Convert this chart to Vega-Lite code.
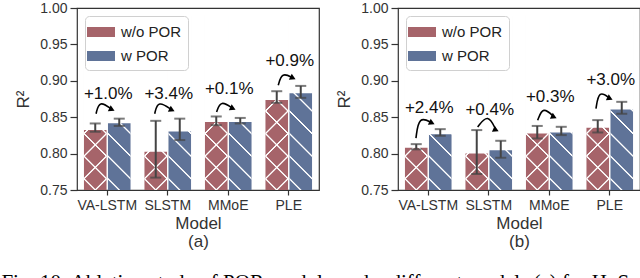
{
  "$schema": "https://vega.github.io/schema/vega-lite/v6.json",
  "padding": {"left": 1, "top": 0, "right": 0, "bottom": 0},
  "spacing": 14,
  "params": [
    {"name": "g1", "value": {"gradient": "linear", "x1": 0, "y1": 1, "x2": 0.1435, "y2": -0.1107, "stops": [
      {"offset": 0, "color": "rgba(255,255,255,0)"},
      {"offset": 0.0500, "color": "rgba(255,255,255,0)"}, {"offset": 0.0547, "color": "#ffffff"}, {"offset": 0.0597, "color": "#ffffff"}, {"offset": 0.0644, "color": "rgba(255,255,255,0)"},
      {"offset": 0.1644, "color": "rgba(255,255,255,0)"}, {"offset": 0.1691, "color": "#ffffff"}, {"offset": 0.1741, "color": "#ffffff"}, {"offset": 0.1788, "color": "rgba(255,255,255,0)"},
      {"offset": 0.2788, "color": "rgba(255,255,255,0)"}, {"offset": 0.2835, "color": "#ffffff"}, {"offset": 0.2885, "color": "#ffffff"}, {"offset": 0.2932, "color": "rgba(255,255,255,0)"},
      {"offset": 0.3932, "color": "rgba(255,255,255,0)"}, {"offset": 0.3979, "color": "#ffffff"}, {"offset": 0.4029, "color": "#ffffff"}, {"offset": 0.4076, "color": "rgba(255,255,255,0)"},
      {"offset": 0.5076, "color": "rgba(255,255,255,0)"}, {"offset": 0.5123, "color": "#ffffff"}, {"offset": 0.5173, "color": "#ffffff"}, {"offset": 0.5220, "color": "rgba(255,255,255,0)"},
      {"offset": 0.6220, "color": "rgba(255,255,255,0)"}, {"offset": 0.6267, "color": "#ffffff"}, {"offset": 0.6317, "color": "#ffffff"}, {"offset": 0.6364, "color": "rgba(255,255,255,0)"},
      {"offset": 0.7364, "color": "rgba(255,255,255,0)"}, {"offset": 0.7411, "color": "#ffffff"}, {"offset": 0.7461, "color": "#ffffff"}, {"offset": 0.7508, "color": "rgba(255,255,255,0)"},
      {"offset": 0.8508, "color": "rgba(255,255,255,0)"}, {"offset": 0.8555, "color": "#ffffff"}, {"offset": 0.8605, "color": "#ffffff"}, {"offset": 0.8652, "color": "rgba(255,255,255,0)"},
      {"offset": 0.9652, "color": "rgba(255,255,255,0)"}, {"offset": 0.9699, "color": "#ffffff"}, {"offset": 0.9749, "color": "#ffffff"}, {"offset": 0.9796, "color": "rgba(255,255,255,0)"},
      {"offset": 1, "color": "rgba(255,255,255,0)"}
    ]}},
    {"name": "g2", "value": {"gradient": "linear", "x1": 0, "y1": 0, "x2": 0.1435, "y2": 1.1107, "stops": [
      {"offset": 0, "color": "rgba(255,255,255,0)"},
      {"offset": 0.0204, "color": "rgba(255,255,255,0)"}, {"offset": 0.0251, "color": "#ffffff"}, {"offset": 0.0301, "color": "#ffffff"}, {"offset": 0.0348, "color": "rgba(255,255,255,0)"},
      {"offset": 0.1348, "color": "rgba(255,255,255,0)"}, {"offset": 0.1395, "color": "#ffffff"}, {"offset": 0.1445, "color": "#ffffff"}, {"offset": 0.1492, "color": "rgba(255,255,255,0)"},
      {"offset": 0.2492, "color": "rgba(255,255,255,0)"}, {"offset": 0.2539, "color": "#ffffff"}, {"offset": 0.2589, "color": "#ffffff"}, {"offset": 0.2636, "color": "rgba(255,255,255,0)"},
      {"offset": 0.3636, "color": "rgba(255,255,255,0)"}, {"offset": 0.3683, "color": "#ffffff"}, {"offset": 0.3733, "color": "#ffffff"}, {"offset": 0.3780, "color": "rgba(255,255,255,0)"},
      {"offset": 0.4780, "color": "rgba(255,255,255,0)"}, {"offset": 0.4827, "color": "#ffffff"}, {"offset": 0.4877, "color": "#ffffff"}, {"offset": 0.4924, "color": "rgba(255,255,255,0)"},
      {"offset": 0.5924, "color": "rgba(255,255,255,0)"}, {"offset": 0.5971, "color": "#ffffff"}, {"offset": 0.6021, "color": "#ffffff"}, {"offset": 0.6068, "color": "rgba(255,255,255,0)"},
      {"offset": 0.7068, "color": "rgba(255,255,255,0)"}, {"offset": 0.7115, "color": "#ffffff"}, {"offset": 0.7165, "color": "#ffffff"}, {"offset": 0.7212, "color": "rgba(255,255,255,0)"},
      {"offset": 0.8212, "color": "rgba(255,255,255,0)"}, {"offset": 0.8259, "color": "#ffffff"}, {"offset": 0.8309, "color": "#ffffff"}, {"offset": 0.8356, "color": "rgba(255,255,255,0)"},
      {"offset": 0.9356, "color": "rgba(255,255,255,0)"}, {"offset": 0.9403, "color": "#ffffff"}, {"offset": 0.9453, "color": "#ffffff"}, {"offset": 0.9500, "color": "rgba(255,255,255,0)"},
      {"offset": 1, "color": "rgba(255,255,255,0)"}
    ]}}
  ],
  "datasets": {
    "bars": [
      {"p": "a", "Model": "VA-LSTM", "Group": "w/o POR", "v": 0.8336, "lo": 0.830, "hi": 0.8414},
      {"p": "a", "Model": "VA-LSTM", "Group": "w POR", "v": 0.8428, "lo": 0.838, "hi": 0.848},
      {"p": "a", "Model": "SLSTM", "Group": "w/o POR", "v": 0.8035, "lo": 0.767, "hi": 0.845},
      {"p": "a", "Model": "SLSTM", "Group": "w POR", "v": 0.8313, "lo": 0.8186, "hi": 0.848},
      {"p": "a", "Model": "MMoE", "Group": "w/o POR", "v": 0.8446, "lo": 0.839, "hi": 0.851},
      {"p": "a", "Model": "MMoE", "Group": "w POR", "v": 0.8446, "lo": 0.8414, "hi": 0.849},
      {"p": "a", "Model": "PLE", "Group": "w/o POR", "v": 0.8748, "lo": 0.8697, "hi": 0.8857},
      {"p": "a", "Model": "PLE", "Group": "w POR", "v": 0.8839, "lo": 0.8766, "hi": 0.893},
      {"p": "b", "Model": "VA-LSTM", "Group": "w/o POR", "v": 0.809, "lo": 0.8058, "hi": 0.813},
      {"p": "b", "Model": "VA-LSTM", "Group": "w POR", "v": 0.8277, "lo": 0.8245, "hi": 0.8336},
      {"p": "b", "Model": "SLSTM", "Group": "w/o POR", "v": 0.8012, "lo": 0.772, "hi": 0.8323},
      {"p": "b", "Model": "SLSTM", "Group": "w POR", "v": 0.8058, "lo": 0.7943, "hi": 0.8176},
      {"p": "b", "Model": "MMoE", "Group": "w/o POR", "v": 0.8286, "lo": 0.8208, "hi": 0.838},
      {"p": "b", "Model": "MMoE", "Group": "w POR", "v": 0.830, "lo": 0.8254, "hi": 0.8368},
      {"p": "b", "Model": "PLE", "Group": "w/o POR", "v": 0.8364, "lo": 0.829, "hi": 0.846},
      {"p": "b", "Model": "PLE", "Group": "w POR", "v": 0.8615, "lo": 0.8547, "hi": 0.8711}
    ],
    "notes": [
      {"p": "a", "Model": "VA-LSTM", "label": "+1.0%", "ty": 0.8813},
      {"p": "a", "Model": "SLSTM", "label": "+3.4%", "ty": 0.8813},
      {"p": "a", "Model": "MMoE", "label": "+0.1%", "ty": 0.8883},
      {"p": "a", "Model": "PLE", "label": "+0.9%", "ty": 0.9268},
      {"p": "b", "Model": "VA-LSTM", "label": "+2.4%", "ty": 0.8626},
      {"p": "b", "Model": "SLSTM", "label": "+0.4%", "ty": 0.8595},
      {"p": "b", "Model": "MMoE", "label": "+0.3%", "ty": 0.8777},
      {"p": "b", "Model": "PLE", "label": "+3.0%", "ty": 0.9007}
    ],
    "arrows": [
      {"p": "a", "Model": "VA-LSTM", "s": 0, "f": 0.26, "v": 0.8548},
      {"p": "a", "Model": "VA-LSTM", "s": 1, "f": 0.33, "v": 0.8735},
      {"p": "a", "Model": "VA-LSTM", "s": 2, "f": 0.60, "v": 0.8606},
      {"p": "a", "Model": "SLSTM", "s": 0, "f": 0.22, "v": 0.8548},
      {"p": "a", "Model": "SLSTM", "s": 1, "f": 0.29, "v": 0.8735},
      {"p": "a", "Model": "SLSTM", "s": 2, "f": 0.59, "v": 0.8599},
      {"p": "a", "Model": "MMoE", "s": 0, "f": 0.25, "v": 0.8571},
      {"p": "a", "Model": "MMoE", "s": 1, "f": 0.34, "v": 0.8735},
      {"p": "a", "Model": "MMoE", "s": 2, "f": 0.60, "v": 0.8619},
      {"p": "a", "Model": "PLE", "s": 0, "f": 0.275, "v": 0.8938},
      {"p": "a", "Model": "PLE", "s": 1, "f": 0.354, "v": 0.912},
      {"p": "a", "Model": "PLE", "s": 2, "f": 0.59, "v": 0.9038},
      {"p": "b", "Model": "VA-LSTM", "s": 0, "f": 0.236, "v": 0.8214},
      {"p": "b", "Model": "VA-LSTM", "s": 1, "f": 0.30, "v": 0.852},
      {"p": "b", "Model": "VA-LSTM", "s": 2, "f": 0.579, "v": 0.842},
      {"p": "b", "Model": "SLSTM", "s": 0, "f": 0.262, "v": 0.8365},
      {"p": "b", "Model": "SLSTM", "s": 1, "f": 0.483, "v": 0.855},
      {"p": "b", "Model": "SLSTM", "s": 2, "f": 0.655, "v": 0.8324},
      {"p": "b", "Model": "MMoE", "s": 0, "f": 0.251, "v": 0.8457},
      {"p": "b", "Model": "MMoE", "s": 1, "f": 0.365, "v": 0.865},
      {"p": "b", "Model": "MMoE", "s": 2, "f": 0.601, "v": 0.8503},
      {"p": "b", "Model": "PLE", "s": 0, "f": 0.204, "v": 0.8617},
      {"p": "b", "Model": "PLE", "s": 1, "f": 0.268, "v": 0.8875},
      {"p": "b", "Model": "PLE", "s": 2, "f": 0.504, "v": 0.8757}
    ]
  },
  "title": {"text": "Fig. 10:  Ablation study of POR module under different models (a) for H. S", "orient": "bottom", "anchor": "start", "font": "Liberation Serif", "fontSize": 21, "fontWeight": "normal", "color": "#000000", "offset": 22, "dx": -12},
  "resolve": {"scale": {"color": "independent"}, "legend": {"color": "independent"}},
  "hconcat": [
    {
      "width": 242, "height": 182,
      "resolve": {"scale": {"xOffset": "independent"}},
      "layer": [
        {
          "data": {"name": "bars"},
          "transform": [{"filter": "datum.p === 'a'"}],
          "encoding": {
            "x": {"field": "Model", "type": "nominal", "sort": ["VA-LSTM", "SLSTM", "MMoE", "PLE"], "scale": {"paddingInner": 0.23, "paddingOuter": 0.115}, "title": ["Model", "(a)"]},
            "xOffset": {"field": "Group", "type": "nominal", "sort": ["w/o POR", "w POR"], "scale": {"paddingInner": 0.06, "paddingOuter": 0}}
          },
          "layer": [
            {"mark": {"type": "bar"}, "encoding": {
              "y": {"datum": 0.99, "type": "quantitative", "scale": {"domain": [0.75, 1.0], "nice": false, "zero": false}, "title": "R²", "axis": {"values": [0.75, 0.8, 0.85, 0.9, 0.95, 1.0], "tickCount": 12, "format": ".2f", "labelOverlap": false, "labelFlush": false, "titleX": -45, "titleY": 91, "tickSize": 7, "labelPadding": 3}},
              "y2": {"datum": 0.75},
              "color": {"field": "Group", "type": "nominal", "scale": {"domain": ["w/o POR", "w POR"], "range": ["#a6646a", "#5f7398"]}, "legend": {"title": null, "orient": "top-left"}}
            }},
            {"mark": {"type": "bar", "fill": {"expr": "g1"}}, "encoding": {"y": {"datum": 0.99, "type": "quantitative", "title": "R²"}, "y2": {"datum": 0.75}}},
            {"transform": [{"filter": "datum.Group === 'w/o POR'"}], "mark": {"type": "bar", "fill": {"expr": "g2"}}, "encoding": {"y": {"datum": 0.99, "type": "quantitative", "title": "R²"}, "y2": {"datum": 0.75}}},
            {"mark": {"type": "bar", "fill": "#ffffff", "stroke": "#ffffff", "strokeWidth": 1.5}, "encoding": {"y": {"field": "v", "type": "quantitative", "title": "R²"}, "y2": {"datum": 0.99}}},
            {"mark": {"type": "rule", "color": "#444444", "strokeWidth": 2}, "encoding": {"y": {"field": "lo", "type": "quantitative", "title": "R²"}, "y2": {"field": "hi"}}},
            {"mark": {"type": "tick", "color": "#444444", "thickness": 2, "size": 11, "orient": "horizontal"}, "encoding": {"y": {"field": "lo", "type": "quantitative", "title": "R²"}}},
            {"mark": {"type": "tick", "color": "#444444", "thickness": 2, "size": 11, "orient": "horizontal"}, "encoding": {"y": {"field": "hi", "type": "quantitative", "title": "R²"}}}
          ]
        },
        {
          "data": {"name": "notes"},
          "transform": [{"filter": "datum.p === 'a'"}],
          "mark": {"type": "text", "fontSize": 17, "font": "Liberation Sans", "color": "#111111", "dx": 1},
          "encoding": {
            "x": {"field": "Model", "type": "nominal", "sort": ["VA-LSTM", "SLSTM", "MMoE", "PLE"], "title": ["Model", "(a)"]},
            "y": {"field": "ty", "type": "quantitative", "title": "R²"},
            "text": {"field": "label"}
          }
        },
        {
          "data": {"name": "arrows"},
          "transform": [{"filter": "datum.p === 'a'"}],
          "encoding": {
            "x": {"field": "Model", "type": "nominal", "sort": ["VA-LSTM", "SLSTM", "MMoE", "PLE"], "title": ["Model", "(a)"]},
            "xOffset": {"field": "f", "type": "quantitative", "scale": {"domain": [0, 1], "nice": false, "zero": false}},
            "y": {"field": "v", "type": "quantitative", "title": "R²"}
          },
          "layer": [
            {"mark": {"type": "line", "interpolate": "basis", "color": "#000000", "strokeWidth": 1.6}, "encoding": {"detail": {"field": "Model"}, "order": {"field": "s"}}},
            {"transform": [{"filter": "datum.s === 2"}], "mark": {"type": "point", "shape": "triangle-up", "filled": true, "color": "#000000", "size": 45, "angle": 115, "opacity": 1}}
          ]
        }
      ]
    },
    {
      "width": 242, "height": 182,
      "resolve": {"scale": {"xOffset": "independent"}},
      "layer": [
        {
          "data": {"name": "bars"},
          "transform": [{"filter": "datum.p === 'b'"}],
          "encoding": {
            "x": {"field": "Model", "type": "nominal", "sort": ["VA-LSTM", "SLSTM", "MMoE", "PLE"], "scale": {"paddingInner": 0.23, "paddingOuter": 0.115}, "title": ["Model", "(b)"]},
            "xOffset": {"field": "Group", "type": "nominal", "sort": ["w/o POR", "w POR"], "scale": {"paddingInner": 0.06, "paddingOuter": 0}}
          },
          "layer": [
            {"mark": {"type": "bar"}, "encoding": {
              "y": {"datum": 0.99, "type": "quantitative", "scale": {"domain": [0.75, 1.0], "nice": false, "zero": false}, "title": "R²", "axis": {"values": [0.75, 0.8, 0.85, 0.9, 0.95, 1.0], "tickCount": 12, "format": ".2f", "labelOverlap": false, "labelFlush": false, "titleX": -45, "titleY": 91, "tickSize": 7, "labelPadding": 3}},
              "y2": {"datum": 0.75},
              "color": {"field": "Group", "type": "nominal", "scale": {"domain": ["w/o POR", "w POR"], "range": ["#a6646a", "#5f7398"]}, "legend": {"title": null, "orient": "top-left"}}
            }},
            {"mark": {"type": "bar", "fill": {"expr": "g1"}}, "encoding": {"y": {"datum": 0.99, "type": "quantitative", "title": "R²"}, "y2": {"datum": 0.75}}},
            {"transform": [{"filter": "datum.Group === 'w/o POR'"}], "mark": {"type": "bar", "fill": {"expr": "g2"}}, "encoding": {"y": {"datum": 0.99, "type": "quantitative", "title": "R²"}, "y2": {"datum": 0.75}}},
            {"mark": {"type": "bar", "fill": "#ffffff", "stroke": "#ffffff", "strokeWidth": 1.5}, "encoding": {"y": {"field": "v", "type": "quantitative", "title": "R²"}, "y2": {"datum": 0.99}}},
            {"mark": {"type": "rule", "color": "#444444", "strokeWidth": 2}, "encoding": {"y": {"field": "lo", "type": "quantitative", "title": "R²"}, "y2": {"field": "hi"}}},
            {"mark": {"type": "tick", "color": "#444444", "thickness": 2, "size": 11, "orient": "horizontal"}, "encoding": {"y": {"field": "lo", "type": "quantitative", "title": "R²"}}},
            {"mark": {"type": "tick", "color": "#444444", "thickness": 2, "size": 11, "orient": "horizontal"}, "encoding": {"y": {"field": "hi", "type": "quantitative", "title": "R²"}}}
          ]
        },
        {
          "data": {"name": "notes"},
          "transform": [{"filter": "datum.p === 'b'"}],
          "mark": {"type": "text", "fontSize": 17, "font": "Liberation Sans", "color": "#111111", "dx": 1},
          "encoding": {
            "x": {"field": "Model", "type": "nominal", "sort": ["VA-LSTM", "SLSTM", "MMoE", "PLE"], "title": ["Model", "(b)"]},
            "y": {"field": "ty", "type": "quantitative", "title": "R²"},
            "text": {"field": "label"}
          }
        },
        {
          "data": {"name": "arrows"},
          "transform": [{"filter": "datum.p === 'b'"}],
          "encoding": {
            "x": {"field": "Model", "type": "nominal", "sort": ["VA-LSTM", "SLSTM", "MMoE", "PLE"], "title": ["Model", "(b)"]},
            "xOffset": {"field": "f", "type": "quantitative", "scale": {"domain": [0, 1], "nice": false, "zero": false}},
            "y": {"field": "v", "type": "quantitative", "title": "R²"}
          },
          "layer": [
            {"mark": {"type": "line", "interpolate": "basis", "color": "#000000", "strokeWidth": 1.6}, "encoding": {"detail": {"field": "Model"}, "order": {"field": "s"}}},
            {"transform": [{"filter": "datum.s === 2"}], "mark": {"type": "point", "shape": "triangle-up", "filled": true, "color": "#000000", "size": 45, "angle": 115, "opacity": 1}}
          ]
        }
      ]
    }
  ],
  "config": {
    "view": {"stroke": "#333333", "strokeWidth": 1.2},
    "font": "Liberation Sans",
    "axis": {"labelFont": "Liberation Sans", "labelFontSize": 14, "labelColor": "#333333", "titleFont": "Liberation Sans", "titleFontSize": 17, "titleFontWeight": "normal", "titleColor": "#333333", "tickColor": "#333333", "tickWidth": 1.2, "domain": false, "grid": false},
    "axisX": {"tickSize": 5, "labelPadding": 3, "titlePadding": 3, "labelAngle": 0, "titleLineHeight": 18},
    "legend": {"offset": 8, "padding": 6, "fillColor": "#ffffff", "strokeColor": "#d0d0d0", "cornerRadius": 4, "symbolType": "M-1.4,-0.5H1.4V0.5H-1.4Z", "symbolSize": 400, "symbolStrokeWidth": 0, "labelFont": "Liberation Sans", "labelFontSize": 15, "labelColor": "#222222", "labelOffset": 10, "rowPadding": 6}
  }
}
